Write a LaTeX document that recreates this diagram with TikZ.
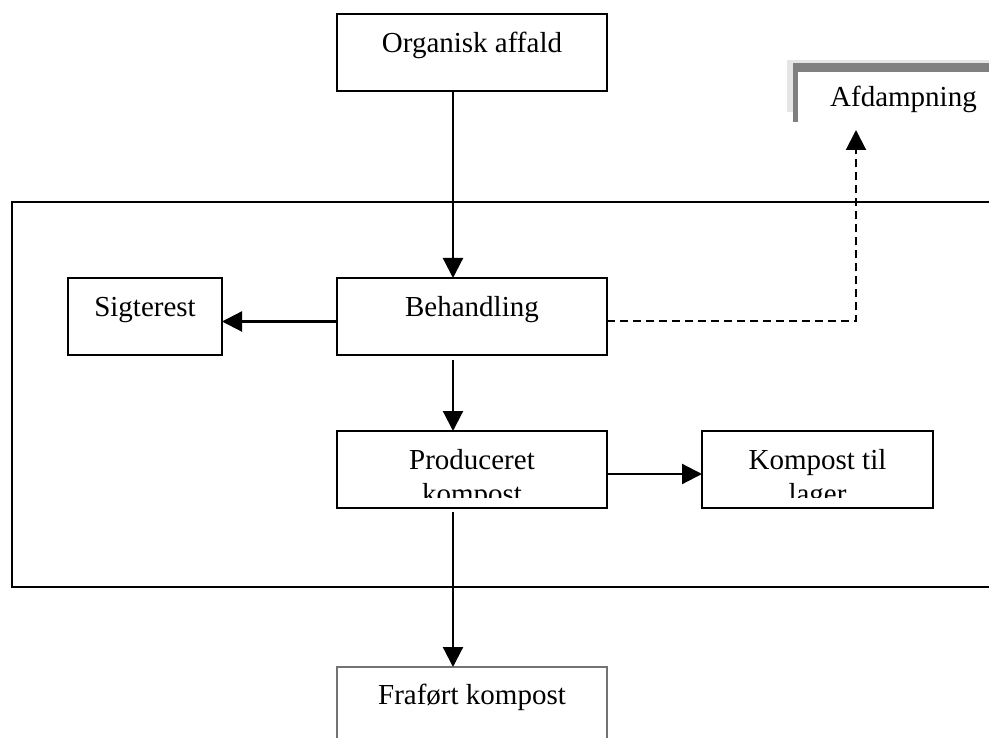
\documentclass[tikz,border=0pt]{standalone}
\usepackage{fontspec}
\setmainfont{Liberation Serif}
\usepackage{xcolor}
\usepackage{tikz}
\usetikzlibrary{arrows.meta, positioning}

\begin{document}
\begin{tikzpicture}[
    x=1pt, y=-1pt,
    font=\fontsize{29}{34}\selectfont,
    box/.style={rectangle, draw=black, fill=white, line width=2.2pt,
                minimum width=270pt, inner xsep=4pt, inner ysep=0pt, outer sep=0pt,
                text height=38.5pt, text depth=38.5pt, align=center},
    outbox/.style={box, draw=black!55, line width=1.2pt, text height=37pt, text depth=40pt},
    ventbox/.style={rectangle, minimum width=221pt, inner sep=0pt, outer sep=0pt,
                    text height=44pt, text depth=18pt},
    boxtext/.style={inner sep=0pt, outer sep=0pt, align=center},
    arrow/.style={-{Triangle[length=20pt, width=20pt]}, line width=2.2pt},
    dasharrow/.style={arrow, line width=2pt, dash pattern=on 8pt off 5pt},
    frame/.style={draw=black, line width=2.4pt},
]
    \useasboundingbox (0,0) rectangle (989,738);

    % system boundary
    \draw[frame] (12,202) rectangle (1000,587);

    \node[box] (org) at (472,52.5) {Organisk affald};
    \node[box, below=187pt of org] (beh) {Behandling};
    \node[box, below=76pt of beh] (prod) {};
    \node[outbox, below=159pt of prod] (fra) {Fraført kompost};
    \node[box, minimum width=154pt, left=115pt of beh] (sig) {Sigterest};
    \node[box, minimum width=231pt, right=95pt of prod] (kom) {};

    % Afdampning with inset border
    \node[ventbox, anchor=north west] (afd) at (793,63) {Afdampning};
    \fill[gray!20] ([xshift=-6pt,yshift=3pt]afd.north west) rectangle ([yshift=-49pt]afd.north west);
    \fill[gray!20] ([xshift=-6pt,yshift=3pt]afd.north west) rectangle ([xshift=250pt]afd.north west);
    \fill[gray] (afd.north west) rectangle ([xshift=250pt,yshift=-9pt]afd.north west);
    \fill[gray] (afd.north west) rectangle ([xshift=5pt,yshift=-59pt]afd.north west);

    % cut-off texts
    \begin{scope}
        \clip ([yshift=11pt]prod.south west) rectangle (prod.north east);
        \node[boxtext, anchor=north] (prodtxt) at ([yshift=-18.3pt]prod.north) {Produceret\\kompost};
    \end{scope}
    \begin{scope}
        \clip ([yshift=11pt]kom.south west) rectangle (kom.north east);
        \node[boxtext, anchor=north] (komtxt) at ([yshift=-18.3pt]kom.north) {Kompost til\\lager};
    \end{scope}

    \draw[arrow] ([xshift=-19pt]org.south) -- ([xshift=-19pt]beh.north);
    \draw[arrow, shorten <=5pt] ([xshift=-19pt]beh.south) -- ([xshift=-19pt]prod.north);
    \draw[arrow, shorten <=4pt] ([xshift=-19pt]prod.south) -- ([xshift=-19pt]fra.north);
    \draw[arrow] ([yshift=-5pt]beh.west) -- ([yshift=-5pt]sig.east);
    \draw[arrow] ([yshift=-4.5pt]prod.east) -- ([yshift=-4.5pt]kom.west);
    \draw[dasharrow] ([yshift=-5pt]beh.east) -| ([xshift=63pt,yshift=-5pt]afd.south west);
\end{tikzpicture}
\end{document}
